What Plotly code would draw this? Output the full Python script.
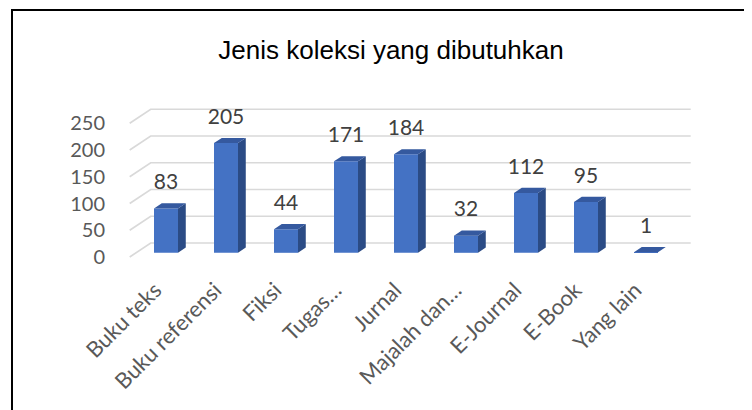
import plotly.graph_objects as go

# ---- data ----
categories = ["Buku teks", "Buku referensi", "Fiksi", "Tugas…", "Jurnal",
              "Majalah dan…", "E-Journal", "E-Book", "Yang lain"]
values = [83, 205, 44, 171, 184, 32, 112, 95, 1]
y_ticks = [0, 50, 100, 150, 200, 250]
title_text = "Jenis koleksi yang dibutuhkan"

# ---- layout geometry ----
# the page body has an 8px default margin, so the figure starts at (8, 8)
OFF = 8
PAGE_W, PAGE_H = 752, 410
W, H = PAGE_W - OFF, PAGE_H - OFF


def fx(px):  # page x -> figure x
    return px - OFF


def fy(py):  # page y -> figure y
    return py - OFF


PLOT_L, PLOT_R, PLOT_T, PLOT_B = 124, 700, 100, 262   # page pixels
ML, MR = fx(PLOT_L), W - fx(PLOT_R)
MT, MB = fy(PLOT_T), H - fy(PLOT_B)

PX_PER_CAT = 60.0
PX_PER_UNIT = 0.535
FRONT_ZERO_PX = 257.0   # page y of value 0 on front plane
CAT0_PX = 159.7         # page x of first category on front plane
DX = 21.0 / PX_PER_CAT          # depth offset in category units
DY = 14.0 / PX_PER_UNIT         # depth offset in value units
F0, F1 = 0.3, 0.67              # bar depth span (fraction of full depth)
BAR_W = 0.4
LABEL_GAP = 24.5 / PX_PER_UNIT

FRONT = "#4472C4"
SIDE = "#2B4B85"
TOP = "#35599F"
GRID = "#D9D9D9"

xr0 = (PLOT_L - CAT0_PX) / PX_PER_CAT
xr1 = (PLOT_R - CAT0_PX) / PX_PER_CAT
yr0 = (FRONT_ZERO_PX - PLOT_B) / PX_PER_UNIT
yr1 = (FRONT_ZERO_PX - PLOT_T) / PX_PER_UNIT

n = len(categories)
base = F0 * DY
ddx = (F1 - F0) * DX
ddy = (F1 - F0) * DY
xc = [i + F0 * DX for i in range(n)]

side_x, side_y, top_x, top_y = [], [], [], []
for i, v in enumerate(values):
    xl = xc[i] - BAR_W / 2
    xr = xc[i] + BAR_W / 2
    side_x += [xr, xr + ddx, xr + ddx, xr, xr, None]
    side_y += [base, base + ddy, base + ddy + v, base + v, base, None]
    top_x += [xl, xr, xr + ddx, xl + ddx, xl, None]
    top_y += [base + v, base + v, base + v + ddy, base + v + ddy, base + v, None]

fig = go.Figure()
fig.add_trace(go.Bar(x=xc, y=values, base=base, width=BAR_W,
                     marker=dict(color=FRONT, line=dict(width=0)),
                     hoverinfo="skip"))
fig.add_trace(go.Scatter(x=side_x, y=side_y, mode="lines", fill="toself",
                         fillcolor=SIDE, line=dict(width=0, color=SIDE),
                         hoverinfo="skip"))
fig.add_trace(go.Scatter(x=top_x, y=top_y, mode="lines", fill="toself",
                         fillcolor=TOP, line=dict(width=0, color=TOP),
                         hoverinfo="skip"))
fig.add_trace(go.Scatter(x=xc, y=[base + v + LABEL_GAP for v in values],
                         mode="text", text=[str(v) for v in values],
                         textposition="middle center",
                         textfont=dict(family="Lato", size=21, color="#404040"),
                         hoverinfo="skip"))

shapes = []
for t in y_ticks:
    path = "M {a},{b} L {c},{d} L {e},{d}".format(
        a=-0.5, b=t, c=-0.5 + DX, d=t + DY, e=n - 0.5 + DX)
    shapes.append(dict(type="path", path=path, xref="x", yref="y",
                       line=dict(color=GRID, width=1.7), layer="below"))

pw = W - ML - MR
ph = H - MT - MB


def xp(px):  # page x -> paper fraction
    return (fx(px) - ML) / pw


def yp(py):  # page y -> paper fraction
    return (H - MB - fy(py)) / ph


shapes.append(dict(type="line", xref="paper", yref="paper",
                   x0=xp(12), x1=xp(12), y0=yp(9), y1=yp(420),
                   line=dict(color="black", width=2)))
shapes.append(dict(type="line", xref="paper", yref="paper",
                   x0=xp(11), x1=xp(760), y0=yp(10), y1=yp(10),
                   line=dict(color="black", width=2)))

LABEL_SHIFT = 0.18   # x tick labels sit slightly left of bar centres

fig.update_layout(
    width=W, height=H,
    margin=dict(l=ML, r=MR, t=MT, b=MB, pad=0),
    paper_bgcolor="white", plot_bgcolor="white",
    showlegend=False,
    shapes=shapes,
    title=dict(text=title_text, x=fx(391) / W, xanchor="center",
               y=1 - fy(50) / H, yanchor="middle", yref="container",
               font=dict(family="Liberation Sans", size=26, color="black")),
    xaxis=dict(range=[xr0, xr1], tickvals=[x - LABEL_SHIFT for x in xc],
               ticktext=categories, ticklabelstandoff=10,
               tickangle=-45, showgrid=False, zeroline=False, showline=False,
               ticks="", tickfont=dict(family="Lato", size=22, color="#595959")),
    yaxis=dict(range=[yr0, yr1], tickvals=y_ticks, showgrid=False,
               zeroline=False, showline=False, ticks="",
               ticklabelstandoff=18,
               tickfont=dict(family="Lato", size=20, color="#595959")),
)

fig.write_html("out.html")
